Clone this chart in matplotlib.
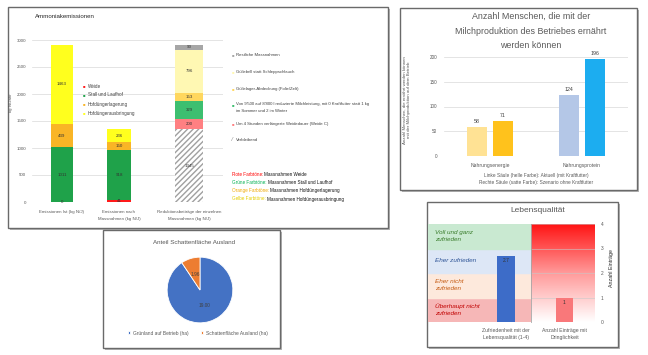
import numpy as np
import matplotlib
matplotlib.use('Agg')
import matplotlib.pyplot as plt
from matplotlib.patches import Rectangle

# ---- data ----
# Ammoniakemissionen
stack_cats = ['Weide', 'Stall und Laufhof', 'Hofdüngerlagerung', 'Hofdüngerausbringung']
emis_ist = [0, 1011, 439, 1463]
emis_nach = [41, 918, 150, 236]
red_names = ['Verbleibend', 'Um 4 Stunden verlängerte Weidedauer (Weide C)',
             "Von 9'500 auf 8'800 l reduzierte Milchleistung, mit 0 Kraftfutter statt 1 kg\nim Sommer und 2 im Winter",
             'Güllelager-Abdeckung (Folie/Zelt)', 'Güllebrill statt Schleppschlauch',
             'Restliche Massnahmen']
red_vals = [1345, 200, 329, 153, 796, 90]
amm_labels = ['Emissionen Ist (kg N/J)', 'Emissionen nach\nMassnahmen (kg N/J)',
              'Reduktionsbeiträge der einzelnen\nMassnahmen (kg N/J)']

# Anzahl Menschen
nahr_cats = ['Nahrungsenergie', 'Nahrungsprotein']
aktuell = [58, 124]
ohne_kf = [71, 196]

# Schattenflaeche
pie_names = ['Grünland auf Betrieb (ha)', 'Schattenfläche Ausland (ha)']
pie_vals = [19.00, 1.96]

# Lebensqualitaet
zufriedenheit = 2.7
eintraege = 1
band_names = ['Überhaupt nicht\nzufrieden', 'Eher nicht\nzufrieden', 'Eher zufrieden', 'Voll und ganz\nzufrieden']

plt.rcParams['font.family'] = ['Liberation Sans', 'DejaVu Sans']
W, H = 648, 355
fig = plt.figure(figsize=(W / 100, H / 100), dpi=100)
fig.patch.set_facecolor('white')


def fx(x):
    return x / W


def fy(y):
    return 1 - y / H


def panel(x0, y0, x1, y1):
    sh = Rectangle((fx(x0 + 2), fy(y1 + 2)), (x1 - x0) / W, (y1 - y0) / H,
                   transform=fig.transFigure, facecolor='#b5b5b5', edgecolor='none', zorder=-3)
    fr = Rectangle((fx(x0), fy(y1)), (x1 - x0) / W, (y1 - y0) / H,
                   transform=fig.transFigure, facecolor='white', edgecolor='#6a6a6a', lw=1.0, zorder=-2)
    fig.add_artist(sh)
    fig.add_artist(fr)


def add_ax(x0, y0, x1, y1):
    return fig.add_axes([fx(x0), fy(y1), (x1 - x0) / W, (y1 - y0) / H])


def clean(ax):
    for s in ax.spines.values():
        s.set_visible(False)
    ax.tick_params(length=0)


# ================= Panel 1: Ammoniakemissionen =================
panel(8, 7, 388, 228)
ax1 = add_ax(32, 40, 223, 202)
clean(ax1)
ax1.set_facecolor('none')
pos = [0, 1, 2.23]
widths = [0.4, 0.43, 0.5]
col_main = ['#ff1a1a', '#1fa24a', '#f9b526', '#ffff1e']
for i, vals in enumerate([emis_ist, emis_nach]):
    bottom = 0
    for v, c in zip(vals, col_main):
        ax1.bar(pos[i], v, widths[i], bottom=bottom, color=c, zorder=2)
        ax1.text(pos[i], bottom + v / 2, f'{v}', ha='center', va='center', fontsize=3.2, color='#333333', zorder=3)
        bottom += v
col_red = ['white', '#ff8082', '#3dbf70', '#ffd75e', '#fff8b3', '#a6a6a6']
bottom = 0
for v, c in zip(red_vals, col_red):
    if c == 'white':
        ax1.bar(pos[2], v, widths[2], bottom=bottom, color='white', edgecolor='#a0a0a0',
                hatch='//////', lw=0.0, zorder=2)
    else:
        ax1.bar(pos[2], v, widths[2], bottom=bottom, color=c, zorder=2)
    ax1.text(pos[2], bottom + v / 2, f'{v}', ha='center', va='center', fontsize=3.2, color='#333333', zorder=3)
    bottom += v
ax1.set_xlim(-0.526, 2.825)
ax1.set_ylim(0, 3000)
ax1.set_yticks(range(0, 3001, 500))
ax1.yaxis.grid(True, color='#d9d9d9', lw=0.5, zorder=0)
ax1.set_axisbelow(True)
ax1.tick_params(axis='y', labelsize=3.2, labelcolor='#595959', pad=4)
ax1.set_xticks(pos)
ax1.set_xticklabels(amm_labels, fontsize=3.2, color='#595959', linespacing=2.0)
ax1.tick_params(axis='x', pad=6)
fig.text(fx(35), fy(17), 'Ammoniakemissionen', fontsize=4.4, color='#262626', va='center')
fig.text(fx(11), fy(103), 'kg N/Jahr', fontsize=3.2, color='#595959', rotation=90, va='center', ha='center')

# legend 1
for k, (name, c) in enumerate(zip(stack_cats, col_main)):
    y = 86 + k * 9
    fig.text(fx(83), fy(y), '■', fontsize=3, color=c, va='center')
    fig.text(fx(88), fy(y), name, fontsize=3.3, color='#404040', va='center')

# legend 2
leg_y = [140, 124, 105, 89, 72, 55]
for name, c, y in zip(red_names, col_red, leg_y):
    if c == 'white':
        fig.text(fx(232), fy(y), '⁄', fontsize=3.5, color='#606060', va='center')
    else:
        fig.text(fx(232), fy(y), '■', fontsize=3, color=c, va='center')
    fig.text(fx(236), fy(y), name, fontsize=3.1, color='#404040', va='top' if '\n' in name else 'center',
             linespacing=2.2)
for t in fig.texts:
    if t.get_text().startswith('Von'):
        t.set_position((fx(236), fy(101.5)))

renderer = fig.canvas.get_renderer()
col_text = [('Rote Farbtöne:', '#ff0000', 'Massnahmen Weide'),
            ('Grüne Farbtöne:', '#00b050', 'Massnahmen Stall und Laufhof'),
            ('Orange Farbtöne:', '#f0a800', 'Massnahmen Hofdüngerlagerung'),
            ('Gelbe Farbtöne:', '#e6cf00', 'Massnahmen Hofdüngerausbringung')]
for k, (a, c, b) in enumerate(col_text):
    y = 175 + k * 8
    t = fig.text(fx(232), fy(y), a, fontsize=3.3, color=c, va='center')
    bb = t.get_window_extent(renderer=renderer)
    fig.text(bb.x1 / W + 1 / W, fy(y), b, fontsize=3.3, color='#111111', va='center')

# ================= Panel 2: Anzahl Menschen =================
panel(400, 8, 637, 190)
ax2 = add_ax(444, 57, 628, 156)
clean(ax2)
x = np.arange(len(nahr_cats))
off = 0.141
bw = 0.217
b1 = ax2.bar(x - off, aktuell, bw, color=['#ffe294', '#b4c7e7'], zorder=2)
b2 = ax2.bar(x + off, ohne_kf, bw, color=['#ffc21c', '#1cadf0'], zorder=2)
for bars, vals in [(b1, aktuell), (b2, ohne_kf)]:
    for r, v in zip(bars, vals):
        ax2.text(r.get_x() + r.get_width() / 2, v + 6, f'{v}', ha='center', va='bottom',
                 fontsize=3.8, color='#404040', clip_on=False)
ax2.set_xlim(-0.5, 1.5)
ax2.set_ylim(0, 200)
ax2.set_yticks(range(0, 201, 50))
ax2.yaxis.grid(True, color='#d9d9d9', lw=0.5, zorder=0)
ax2.set_axisbelow(True)
ax2.tick_params(axis='y', labelsize=3.3, labelcolor='#595959', pad=5)
ax2.set_xticks(x)
ax2.set_xticklabels(nahr_cats, fontsize=3.6, color='#595959')
ax2.tick_params(axis='x', pad=5)
fig.text(fx(531), fy(31), 'Anzahl Menschen, die mit der\nMilchproduktion des Betriebes ernährt\nwerden können',
         fontsize=6.4, color='#595959', ha='center', va='center', linespacing=1.75)
fig.text(fx(407), fy(100), 'Anzahl Menschen, die ernährt werden können\nmit der Milchproduktion auf dem Betrieb',
         fontsize=3.2, color='#595959', rotation=90, ha='center', va='center', linespacing=1.3)
fig.text(fx(536), fy(179), 'Linke Säule (helle Farbe): Aktuell (mit Kraftfutter)\nRechte Säule (satte Farbe): Szenario ohne Kraftfutter',
         fontsize=3.4, color='#595959', ha='center', va='center', linespacing=1.5)

# ================= Panel 3: Schattenflaeche =================
panel(103, 230, 280, 348)
ax3 = add_ax(166.5, 256.5, 233.5, 323.5)
tot = sum(pie_vals)
wedges, _, autotexts = ax3.pie(pie_vals, colors=['#4472c4', '#ed7d31'], startangle=90, counterclock=False,
                               autopct=lambda p: f'{p * tot / 100:.2f}', pctdistance=0.5,
                               wedgeprops=dict(edgecolor='white', lw=0.6),
                               textprops=dict(fontsize=3.4, color='#404040'))
ax3.set_xlim(-1.02, 1.02)
ax3.set_ylim(-1.02, 1.02)
fig.text(fx(194), fy(242), 'Anteil Schattenfläche Ausland', fontsize=4.5, color='#595959', ha='center', va='center')
ax3.legend(wedges, pie_names, loc='center', bbox_to_anchor=(fx(198), fy(333)), bbox_transform=fig.transFigure,
           ncol=2, frameon=False, fontsize=3.5, handlelength=0.5, handleheight=0.5, columnspacing=2.5,
           handletextpad=0.6, labelcolor='#595959')

# ================= Panel 4: Lebensqualitaet =================
panel(427, 202, 618, 347)
ax4a = add_ax(428, 224, 531, 322)
ax4b = add_ax(531, 224, 595, 322)
band_cols = ['#f6b7b7', '#fde9dc', '#dde7f6', '#c9e9d1']
band_txt = ['#c00000', '#c55a11', '#2f5597', '#3a7d2c']
for k, (name, c, tc) in enumerate(zip(band_names, band_cols, band_txt)):
    ax4a.axhspan(k, k + 1, color=c, zorder=0)
    ax4a.text(-1.37, k + 0.5, name, fontsize=4.6, style='italic', color=tc, va='center', ha='left',
              linespacing=1.6)
ax4a.bar(0, zufriedenheit, 0.35, color='#3d6cc8', zorder=2)
ax4a.text(0, zufriedenheit - 0.08, f'{zufriedenheit}', ha='center', va='top', fontsize=3.5, color='#333333')
ax4a.set_xlim(-1.515, 0.485)
ax4a.set_ylim(0, 4)
clean(ax4a)
ax4a.set_yticks([])
ax4a.set_xticks([0])
ax4a.set_xticklabels(['Zufriedenheit mit der\nLebensqualität (1-4)'], fontsize=3.7, color='#595959',
                     linespacing=1.5)
ax4a.tick_params(axis='x', pad=4)

grad = np.linspace(0, 1, 200).reshape(-1, 1)
cmap = matplotlib.colors.LinearSegmentedColormap.from_list('rw', ['#ffffff', '#ff9a9a', '#ff1414'])
ax4b.imshow(grad, cmap=cmap, origin='lower', extent=(-0.523, 0.477, 0, 4), aspect='auto', zorder=0)
ax4b.bar(0, eintraege, 0.265, color='#f9787a', zorder=2)
ax4b.text(0, eintraege - 0.12, f'{eintraege}', ha='center', va='top', fontsize=3.5, color='#333333')
ax4b.set_xlim(-0.523, 0.477)
ax4b.set_ylim(0, 4)
clean(ax4b)
ax4b.spines['left'].set_visible(True)
ax4b.spines['left'].set_color('#a6a6a6')
ax4b.spines['left'].set_linewidth(0.6)
ax4b.yaxis.tick_right()
ax4b.set_yticks(range(0, 5))
ax4b.yaxis.grid(True, color='#c8c8c8', lw=0.4, zorder=1)
ax4b.tick_params(axis='y', labelsize=3.5, labelcolor='#595959', pad=4)
ax4b.set_xticks([0])
ax4b.set_xticklabels(['Anzahl Einträge mit\nDringlichkeit'], fontsize=3.7, color='#595959', linespacing=1.5)
ax4b.tick_params(axis='x', pad=4)
fig.text(fx(612), fy(268), 'Anzahl Einträge', fontsize=3.8, color='#262626', rotation=90, ha='center', va='center')
fig.text(fx(538), fy(211), 'Lebensqualität', fontsize=6.0, color='#595959', ha='center', va='center')

fig.savefig('out.png', dpi=100)
plt.close(fig)
